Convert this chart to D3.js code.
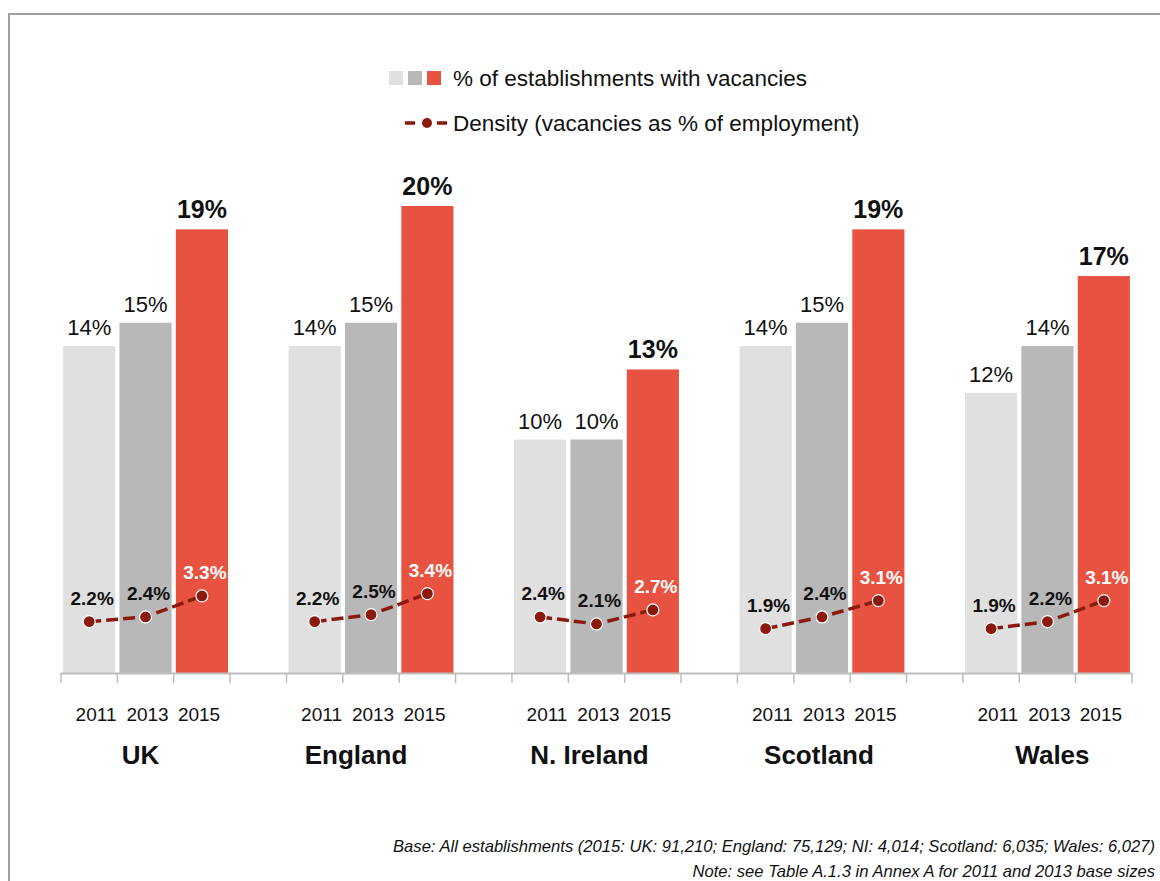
<!DOCTYPE html>
<html>
<head>
<meta charset="utf-8">
<script src="https://cdn.jsdelivr.net/npm/d3@7"></script>
<style>
  html, body { margin: 0; padding: 0; background: #fff; }
  svg { display: block; font-family: "Liberation Sans", Arial, sans-serif; }
</style>
</head>
<body>
<svg id="chart" width="1160" height="881"></svg>
<script>
// Nations and survey years
const regions = ["UK", "England", "N. Ireland", "Scotland", "Wales"];
const years = ["2011", "2013", "2015"];

// % of establishments with vacancies, per region, in year order
const vacancies = {
  "UK":         [14, 15, 19],
  "England":    [14, 15, 20],
  "N. Ireland": [10, 10, 13],
  "Scotland":   [14, 15, 19],
  "Wales":      [12, 14, 17]
};

// Density (vacancies as % of employment), per region, in year order
const density = {
  "UK":         [2.2, 2.4, 3.3],
  "England":    [2.2, 2.5, 3.4],
  "N. Ireland": [2.4, 2.1, 2.7],
  "Scotland":   [1.9, 2.4, 3.1],
  "Wales":      [1.9, 2.2, 3.1]
};

const yearColors = ["#e0e0e0", "#b8b8b8", "#e85240"];
const lineColor = "#8b1a0e";

const legendLabels = ["% of establishments with vacancies", "Density (vacancies as % of employment)"];
const footnotes = [
  "Base: All establishments (2015: UK: 91,210; England: 75,129; NI: 4,014; Scotland: 6,035; Wales: 6,027)",
  "Note: see Table A.1.3 in Annex A for 2011 and 2013 base sizes"
];

const svg = d3.select("#chart");

// Outer frame
svg.append("rect")
  .attr("x", 9).attr("y", 14)
  .attr("width", 1200).attr("height", 900)
  .attr("fill", "none")
  .attr("stroke", "#a0a0a0")
  .attr("stroke-width", 2);

// One slot per bar, with an empty slot between each region
const slots = [];
regions.forEach((r, i) => {
  years.forEach(y => slots.push(r + "|" + y));
  if (i < regions.length - 1) slots.push("gap" + i);
});

const x = d3.scaleBand()
  .domain(slots)
  .range([61, 1132])
  .paddingInner(0.075)
  .paddingOuter(0.0375);

const y = d3.scaleLinear().domain([0, 20]).range([673, 206]);

const step = x.step();
const slotStart = key => x(key) - x.paddingInner() * step / 2;
const cx = key => x(key) + x.bandwidth() / 2;

// Bars
const barData = [];
regions.forEach(r => years.forEach((yr, j) => {
  barData.push({ region: r, year: yr, j, key: r + "|" + yr, v: vacancies[r][j], d: density[r][j] });
}));

svg.append("g").selectAll("rect")
  .data(barData)
  .join("rect")
  .attr("x", d => x(d.key))
  .attr("y", d => y(d.v))
  .attr("width", x.bandwidth())
  .attr("height", d => y(0) - y(d.v))
  .attr("fill", d => yearColors[d.j]);

// Bar value labels
svg.append("g").selectAll("text")
  .data(barData)
  .join("text")
  .attr("x", d => cx(d.key))
  .attr("y", d => y(d.v) - 11)
  .attr("text-anchor", "middle")
  .attr("font-size", d => d.j === 2 ? 25 : 22)
  .attr("font-weight", d => d.j === 2 ? "bold" : "normal")
  .attr("fill", "#111")
  .text(d => d.v + "%");

// Category axis with tick at every slot boundary
const axisG = svg.append("g");
axisG.append("line")
  .attr("x1", 61).attr("x2", 1132)
  .attr("y1", y(0) + 0.5).attr("y2", y(0) + 0.5)
  .attr("stroke", "#bdbdbd").attr("stroke-width", 2);
const tickXs = slots.map(slotStart).concat([slotStart(slots[slots.length - 1]) + step]);
axisG.selectAll("line.tick")
  .data(tickXs)
  .join("line")
  .attr("class", "tick")
  .attr("x1", d => d).attr("x2", d => d)
  .attr("y1", y(0)).attr("y2", y(0) + 10)
  .attr("stroke", "#bdbdbd").attr("stroke-width", 1.5);

// Year labels, set tightly around each group's centre
const groupCenter = r => cx(r + "|2013") + 2;
svg.append("g").selectAll("text")
  .data(barData)
  .join("text")
  .attr("x", d => groupCenter(d.region) + (d.j - 1) * 51.5)
  .attr("y", 721)
  .attr("text-anchor", "middle")
  .attr("font-size", 19)
  .attr("fill", "#111")
  .text(d => d.year);

// Region labels
const regionNudge = [-5, -15, -7, -3, 5];
svg.append("g").selectAll("text")
  .data(regions)
  .join("text")
  .attr("x", (r, i) => cx(r + "|2013") + regionNudge[i])
  .attr("y", 764)
  .attr("text-anchor", "middle")
  .attr("font-size", 26)
  .attr("font-weight", "bold")
  .attr("fill", "#111")
  .text(r => r);

// Density lines
const line = d3.line().x(d => cx(d.key)).y(d => y(d.d));
regions.forEach(r => {
  const pts = barData.filter(d => d.region === r);
  svg.append("path")
    .datum(pts)
    .attr("d", line)
    .attr("fill", "none")
    .attr("stroke", lineColor)
    .attr("stroke-width", 3.5)
    .attr("stroke-dasharray", "12,5");
});

svg.append("g").selectAll("circle")
  .data(barData)
  .join("circle")
  .attr("cx", d => cx(d.key))
  .attr("cy", d => y(d.d))
  .attr("r", 6)
  .attr("fill", lineColor)
  .attr("stroke", "#fff")
  .attr("stroke-width", 1.2);

// Density labels
svg.append("g").selectAll("text")
  .data(barData)
  .join("text")
  .attr("x", d => cx(d.key) + 3)
  .attr("y", d => y(d.d) - 17)
  .attr("text-anchor", "middle")
  .attr("font-size", 19)
  .attr("font-weight", "bold")
  .attr("fill", d => d.j === 2 ? "#fff" : "#111")
  .text(d => d.d.toFixed(1) + "%");

// Legend
const legend = svg.append("g");
yearColors.forEach((c, i) => {
  legend.append("rect")
    .attr("x", 389 + i * 19).attr("y", 71)
    .attr("width", 14).attr("height", 14)
    .attr("fill", c);
});
legend.append("text")
  .attr("x", 453).attr("y", 86)
  .attr("font-size", 22.5).attr("fill", "#111")
  .text(legendLabels[0]);
legend.append("line")
  .attr("x1", 405).attr("x2", 415).attr("y1", 123).attr("y2", 123)
  .attr("stroke", lineColor).attr("stroke-width", 3.5);
legend.append("line")
  .attr("x1", 437).attr("x2", 447).attr("y1", 123).attr("y2", 123)
  .attr("stroke", lineColor).attr("stroke-width", 3.5);
legend.append("circle")
  .attr("cx", 427).attr("cy", 123).attr("r", 5)
  .attr("fill", lineColor);
legend.append("text")
  .attr("x", 453).attr("y", 131)
  .attr("font-size", 22.5).attr("fill", "#111")
  .text(legendLabels[1]);

// Footnotes
svg.append("g").selectAll("text")
  .data(footnotes)
  .join("text")
  .attr("x", 1155)
  .attr("y", (d, i) => 852 + i * 25)
  .attr("text-anchor", "end")
  .attr("font-size", 16.6)
  .attr("font-style", "italic")
  .attr("fill", "#111")
  .text(d => d);
</script>
</body>
</html>
